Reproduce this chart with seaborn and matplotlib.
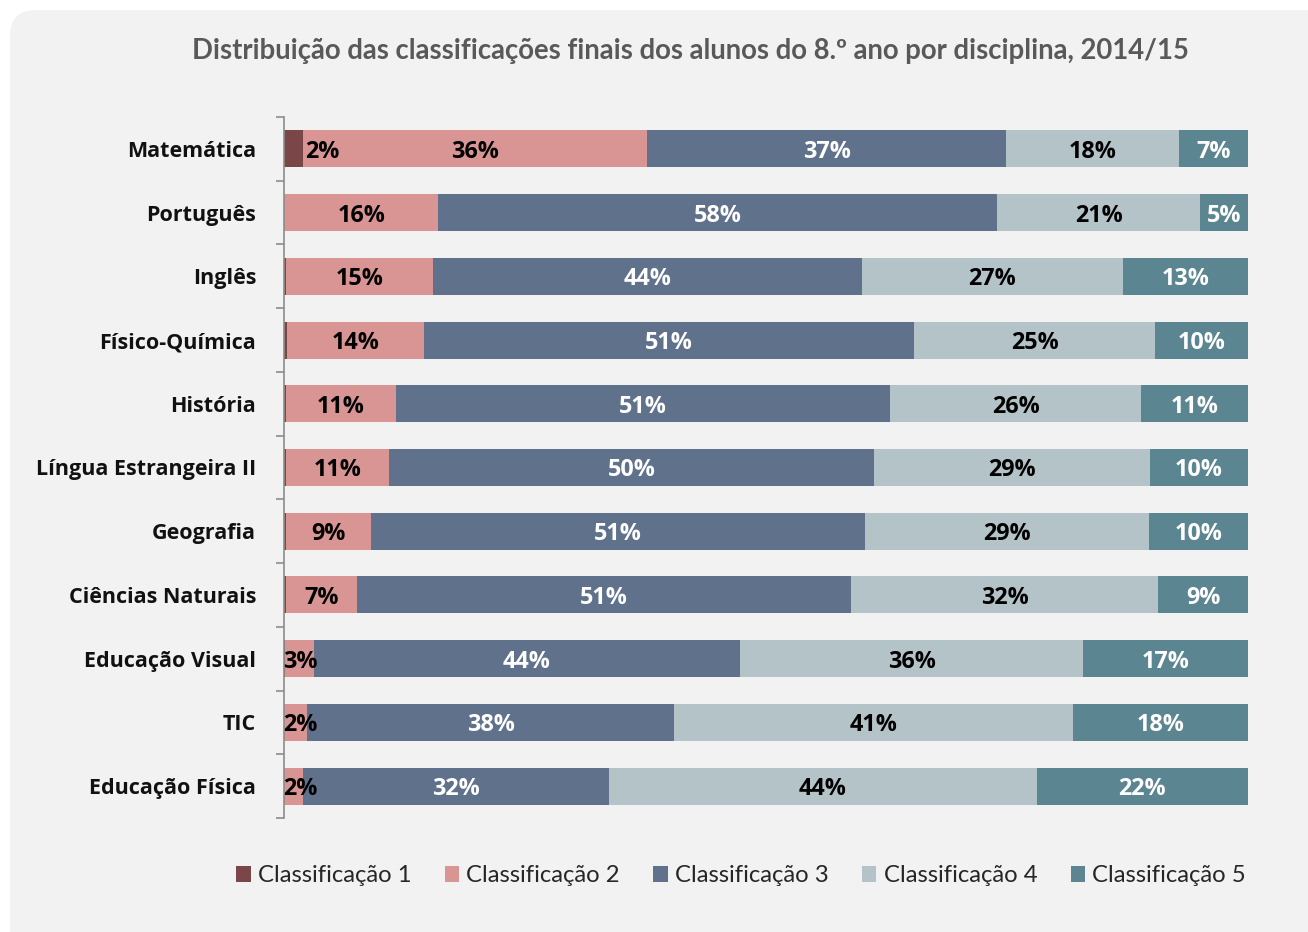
import numpy as np
import pandas as pd
import matplotlib
matplotlib.use("Agg")
import matplotlib.pyplot as plt
from matplotlib.patches import FancyBboxPatch, Patch
import seaborn as sns

# Data (percent of students per final grade, 8th grade 2014/15)
disciplinas = ["Matemática", "Português", "Inglês", "Físico-Química", "História",
               "Língua Estrangeira II", "Geografia", "Ciências Naturais",
               "Educação Visual", "TIC", "Educação Física"]
class1 = [2.0, 0.0, 0.2, 0.3, 0.2, 0.2, 0.2, 0.2, 0.1, 0.0, 0.0]
class2 = [35.7, 16.0, 15.3, 14.2, 11.4, 10.7, 8.8, 7.4, 3.0, 2.4, 2.0]
class3 = [37.2, 58.0, 44.5, 50.9, 51.3, 50.3, 51.3, 51.2, 44.2, 38.1, 31.7]
class4 = [17.9, 21.0, 27.0, 25.0, 26.0, 28.6, 29.4, 31.9, 35.6, 41.3, 44.4]
class5 = [7.2, 5.0, 13.0, 9.6, 11.1, 10.2, 10.3, 9.3, 17.1, 18.2, 21.9]
series_names = ["Classificação 1", "Classificação 2", "Classificação 3",
                "Classificação 4", "Classificação 5"]
colors = ["#7b4648", "#d99594", "#60718c", "#b3c3c8", "#5b8590"]
label_colors = ["#000000", "#000000", "#ffffff", "#000000", "#ffffff"]

series = [class1, class2, class3, class4, class5]
df = pd.DataFrame({name: vals for name, vals in zip(series_names, series)})
df["Disciplina"] = disciplinas
cum = df[series_names].cumsum(axis=1)
cum["Disciplina"] = disciplinas

sns.set_style("white")
plt.rcParams["font.family"] = ["Lato", "DejaVu Sans"]
BOLD = ["Open Sans", "DejaVu Sans"]

W, H = 1308, 932
fig = plt.figure(figsize=(W / 100, H / 100), dpi=100, facecolor="white")

# rounded light grey panel behind the chart
panel = FancyBboxPatch((10 / W, 10 / H), 1.2, 1.2, transform=fig.transFigure,
                       boxstyle="round,pad=0,rounding_size=0.02",
                       facecolor="#f2f2f2", edgecolor="none", zorder=-5,
                       mutation_aspect=W / H)
panel.set_bounds(10 / W, -0.05, 1.2, 1 - 10 / H + 0.05)
fig.patches.append(panel)

ax = fig.add_axes([284 / W, 1 - 818 / H, (1248 - 284) / W, (818 - 117) / H])
ax.set_facecolor("none")
ax.set_zorder(2)

# stacked bars: draw cumulative totals from the largest down
for i in range(len(series_names) - 1, -1, -1):
    sns.barplot(data=cum, x=series_names[i], y="Disciplina", orient="h",
                color=colors[i], width=0.58, saturation=1, ax=ax,
                edgecolor="none", linewidth=0)

# segment labels
lab_size = 16.8
for row in range(len(disciplinas)):
    left = 0
    for i, vals in enumerate(series):
        v = vals[row]
        if v >= 1:
            if i == 0:
                ax.text(left + v + 0.2, row, f"{v:.0f}%", ha="left", va="center_baseline",
                        fontsize=lab_size, fontweight="bold", color=label_colors[i],
                        family=BOLD)
            else:
                # tiny segments: keep the label from spilling past the axis
                x = max(left + v / 2, 1.7)
                ax.text(x, row, f"{v:.0f}%", ha="center", va="center_baseline",
                        fontsize=lab_size, fontweight="bold", color=label_colors[i],
                        family=BOLD)
        left += v

ax.set_xlim(0, 100)
ax.set_ylim(len(disciplinas) - 0.5, -0.5)
ax.set_xlabel("")
ax.set_ylabel("")
ax.set_xticks([])
ax.set_yticks(range(len(disciplinas)))
ax.set_yticklabels(disciplinas, fontsize=15.5, fontweight="bold", color="#111111",
                   family=BOLD)
ax.set_yticks(np.arange(-0.5, len(disciplinas), 1), minor=True)
ax.tick_params(axis="y", which="major", length=0, pad=20)
ax.tick_params(axis="y", which="minor", length=6, color="#8c8c8c", width=1.2, left=True)
for s in ["top", "right", "bottom"]:
    ax.spines[s].set_visible(False)
ax.spines["left"].set_color("#8c8c8c")
ax.spines["left"].set_linewidth(1.2)

fig.text(690 / W, 1 - 51 / H,
         "Distribuição das classificações finais dos alunos do 8.º ano por disciplina, 2014/15",
         ha="center", va="center", fontsize=19.8, fontweight="bold", color="#595959")

handles = [Patch(facecolor=c, edgecolor="none") for c in colors]
fig.legend(handles, series_names, loc="center", bbox_to_anchor=(741 / W, 1 - 876 / H),
           ncol=5, frameon=False, fontsize=17.2, handlelength=0.6, handleheight=0.6,
           handletextpad=0.3, columnspacing=1.4, labelcolor="#262626")

fig.savefig("out.png", dpi=100, facecolor="white")
